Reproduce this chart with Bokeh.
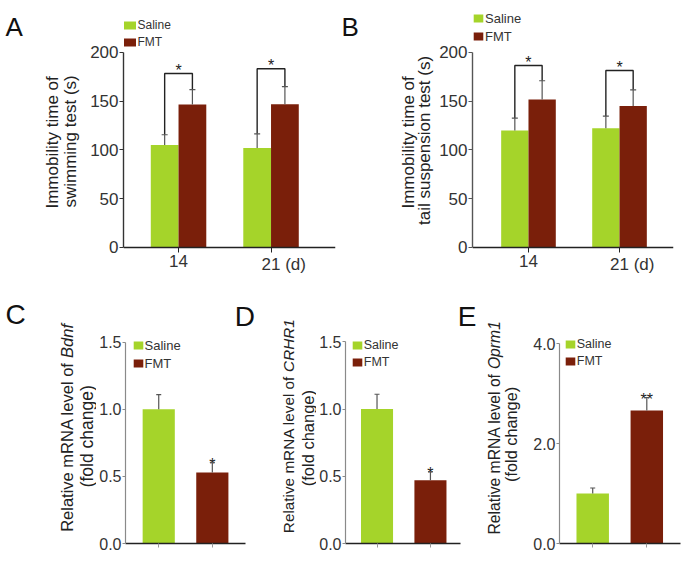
from math import pi
from bokeh.plotting import figure
from bokeh.models import (ColumnDataSource, Whisker, TeeHead, Label, Legend, LegendItem,
                          FixedTicker, NumeralTickFormatter, Range1d)
from bokeh.layouts import row, column
from bokeh.embed import file_html
from bokeh.resources import INLINE
from bokeh.core.properties import value

# ---------------- data ----------------
groups = ["Saline", "FMT"]
days = ["14", "21 (d)"]

a_saline = [105.0, 102.0]
a_saline_err = [10.6, 14.6]
a_fmt = [146.7, 147.0]
a_fmt_err = [15.3, 18.0]
a_bracket = [178.5, 183.3]
a_sig = ["*", "*"]

b_saline = [120.0, 122.4]
b_saline_err = [12.6, 12.3]
b_fmt = [151.8, 145.0]
b_fmt_err = [19.2, 16.7]
b_bracket = [186.7, 181.5]
b_sig = ["*", "*"]

c_values = [1.00, 0.53]
c_err = [0.11, 0.075]
c_sig = ["", "*"]

d_values = [1.00, 0.47]
d_err = [0.11, 0.065]
d_sig = ["", "*"]

e_values = [1.00, 2.66]
e_err = [0.11, 0.26]
e_sig = ["", "**"]

top_yticks = [0, 50, 100, 150, 200]
cd_yticks = [0, 0.5, 1.0, 1.5]
e_yticks = [0, 2.0, 4.0]

SAL_COLOR = "#A5D42A"
FMT_COLOR = "#7A1F0A"
FONT = "Liberation Sans"
ERR_COLOR = "#555555"
TXT = "#222222"


def clean(p):
    p.xgrid.visible = False
    p.ygrid.visible = False
    p.outline_line_color = None
    p.background_fill_color = "white"
    p.border_fill_color = "white"


def text_fig(x0, y0, width, height):
    # a text-only canvas whose data coordinates are page pixels (y grows downward)
    p = figure(width=width, height=height, x_range=Range1d(x0, x0 + width),
               y_range=Range1d(y0 + height, y0),
               x_axis_location=None, y_axis_location=None, title=None,
               output_backend="svg", toolbar_location=None,
               min_border_left=0, min_border_right=0, min_border_top=0, min_border_bottom=0)
    clean(p)
    return p


def label(p, text, x, y, size, angle=0.0, align="left", baseline="alphabetic",
          style="normal", x_offset=0, color=TXT):
    p.add_layout(Label(x=x, y=y, x_units="data", y_units="data", text=text,
                       angle=angle, text_align=align, text_baseline=baseline,
                       x_offset=x_offset, text_font=FONT, text_font_style=style,
                       text_font_size=size, text_color=color))


def main_fig(width, height, xr, yr, mbl, mbr, mbb):
    p = figure(width=width, height=height, x_range=Range1d(*xr), y_range=Range1d(*yr),
               title=None, output_backend="svg", toolbar_location=None,
               min_border_left=mbl, min_border_right=mbr,
               min_border_top=0, min_border_bottom=mbb)
    clean(p)
    p.xaxis.ticker = FixedTicker(ticks=[0, 1])
    p.xaxis.major_label_text_color = None
    p.xaxis.major_label_standoff = 0
    p.xaxis.minor_tick_line_color = None
    p.yaxis.minor_tick_line_color = None
    p.xaxis.major_tick_in = 0
    p.yaxis.major_tick_in = 0
    p.yaxis.major_label_text_font = FONT
    p.yaxis.major_label_text_color = "#333333"
    return p


def add_legend(p, items, x, y, font_size, gw, gh, lh):
    leg = Legend(items=items, location=(x, y), padding=0, margin=0, spacing=3,
                 border_line_color=None, background_fill_alpha=0,
                 glyph_width=gw, glyph_height=gh, label_height=lh, label_standoff=1,
                 label_text_font=FONT, label_text_font_size=font_size,
                 label_text_color="#333333")
    p.add_layout(leg)


def top_panel(width, mbl, mbr, xr, saline, serr, fmt, ferr, brackets, sig,
              leg_xy, leg_font, leg_g, yaxis_color):
    p = main_fig(width, 280, xr, (-27.7, 253.3), mbl, mbr, 6)
    idx = list(range(len(days)))
    hw = 0.15
    src_s = ColumnDataSource(dict(x=[i - hw for i in idx], top=saline,
                                  up=[v + e for v, e in zip(saline, serr)]))
    src_f = ColumnDataSource(dict(x=[i + hw for i in idx], top=fmt,
                                  up=[v + e for v, e in zip(fmt, ferr)]))
    r_s = p.vbar(x="x", top="top", width=2 * hw, bottom=0, source=src_s,
                 fill_color=SAL_COLOR, line_color=None)
    r_f = p.vbar(x="x", top="top", width=2 * hw, bottom=0, source=src_f,
                 fill_color=FMT_COLOR, line_color=None)
    for src in (src_s, src_f):
        p.add_layout(Whisker(base="x", lower="top", upper="up", source=src,
                             line_color=ERR_COLOR, line_width=1.2,
                             upper_head=TeeHead(size=6, line_color=ERR_COLOR, line_width=1.2),
                             lower_head=None, level="glyph"))
    xs, ys = [], []
    for i in idx:
        xs.append([i - hw, i - hw, i + hw, i + hw])
        ys.append([saline[i] + serr[i], brackets[i], brackets[i], fmt[i] + ferr[i]])
    p.multi_line(xs=xs, ys=ys, line_color="#222222", line_width=1.4)
    p.text(x=idx, y=brackets, text=sig, text_align="center", text_baseline="alphabetic",
           y_offset=-3, text_font=value(FONT), text_font_size="16px", text_color="#222222")
    # axes
    p.yaxis.ticker = FixedTicker(ticks=top_yticks)
    p.yaxis.bounds = (0, 200)
    p.yaxis.major_label_text_font_size = "17px"
    p.yaxis.major_tick_out = 4
    p.yaxis.major_label_standoff = 1
    p.yaxis.axis_line_color = yaxis_color
    p.yaxis.major_tick_line_color = yaxis_color
    p.yaxis.axis_line_width = 1.4
    p.xaxis.fixed_location = 0
    p.xaxis.axis_line_color = "#222222"
    p.xaxis.axis_line_width = 1.5
    p.xaxis.major_tick_line_color = "#222222"
    p.xaxis.major_tick_out = 5
    # x tick labels (inside the extended frame, below the zero line)
    label(p, days[0], 0, -7.2, "17px", align="center", baseline="top", color="#333333")
    label(p, days[1], 1, -7.2, "17px", align="left", baseline="top", x_offset=-9.5,
          color="#333333")
    add_legend(p, [LegendItem(label=groups[0], renderers=[r_s]),
                   LegendItem(label=groups[1], renderers=[r_f])],
               leg_xy[0], leg_xy[1], leg_font, leg_g[0], leg_g[1], 14)
    return p


def bottom_panel(width, mbl, mbr, mbb, xr, yr, bounds_x, yticks, y_top, vals, errs, sig,
                 leg_xy, leg_font, lh):
    p = main_fig(width, 282, xr, yr, mbl, mbr, mbb)
    idx = list(range(len(groups)))
    src = ColumnDataSource(dict(x=idx, top=vals, up=[v + e for v, e in zip(vals, errs)],
                                color=[SAL_COLOR, FMT_COLOR], sig=sig))
    r = p.vbar(x="x", top="top", width=0.6, bottom=0, source=src,
               fill_color="color", line_color=None)
    p.add_layout(Whisker(base="x", lower="top", upper="up", source=src,
                         line_color=ERR_COLOR, line_width=1.2,
                         upper_head=TeeHead(size=5, line_color=ERR_COLOR, line_width=1.2),
                         lower_head=None, level="glyph"))
    p.text(x="x", y="up", text="sig", source=src, text_align="center",
           text_baseline="alphabetic", y_offset=2, text_font=value(FONT),
           text_font_size="16px", text_color="#222222")
    p.yaxis.ticker = FixedTicker(ticks=yticks)
    p.yaxis.bounds = (0, y_top)
    p.yaxis.formatter = NumeralTickFormatter(format="0.0")
    p.yaxis.major_label_text_font_size = "16px"
    p.yaxis.major_tick_out = 3
    p.yaxis.major_label_standoff = 1
    p.yaxis.axis_line_color = "#8a8a8a"
    p.yaxis.major_tick_line_color = "#8a8a8a"
    p.yaxis.axis_line_width = 1.2
    p.xaxis.bounds = bounds_x
    p.xaxis.axis_line_color = "#222222"
    p.xaxis.axis_line_width = 1.3
    p.xaxis.major_tick_line_color = "#999999"
    p.xaxis.major_tick_out = 4
    items = [LegendItem(label=groups[0], renderers=[r], index=0),
             LegendItem(label=groups[1], renderers=[r], index=1)]
    add_legend(p, items, leg_xy[0], leg_xy[1], leg_font, 12, 10, lh)
    return p


def ylabel_two_part(p, gene, x1, junction_y, font1, x2, y2, font2):
    # page-pixel coordinates (y downward). Line 1 reads upward: the plain part ends just
    # below junction_y, the italic gene name starts at junction_y.
    gap = 0.278 * font1
    label(p, "Relative mRNA level of", x1, junction_y + gap, f"{font1}px", angle=pi / 2,
          align="right", baseline="middle")
    label(p, gene, x1, junction_y, f"{font1}px", angle=pi / 2,
          align="left", baseline="middle", style="italic")
    label(p, "(fold change)", x2, y2, f"{font2}px", angle=pi / 2, align="center",
          baseline="middle")


# ---------------- top row ----------------
tA = text_fig(0, 0, 82, 280)
label(tA, "A", 5, 27, "26px", color="#111111")
label(tA, "Immobility time of", 51.7, 145, "17px", angle=pi / 2, align="center",
      baseline="middle")
label(tA, "swimming test (s)", 70, 144, "17px", angle=pi / 2, align="center",
      baseline="middle")

pA = top_panel(258, 41, 5, (-0.595, 1.697), a_saline, a_saline_err, a_fmt, a_fmt_err,
               a_bracket, a_sig, (-1.5, 225.5), "12px", (15, 10), "#333333")

tB = text_fig(340, 0, 95, 280)
label(tB, "B", 341, 27, "26px", color="#111111")
label(tB, "Immobility time of", 407.5, 145, "17px", angle=pi / 2, align="center",
      baseline="middle")
label(tB, "tail suspension test (s)", 424, 143, "17px", angle=pi / 2, align="center",
      baseline="middle")

pB = top_panel(250, 37, 12, (-0.615, 1.593), b_saline, b_saline_err, b_fmt, b_fmt_err,
               b_bracket, b_sig, (0, 230.3), "13px", (12, 10), "#555555")

# ---------------- bottom row ----------------
tC = text_fig(0, 280, 96, 282)
label(tC, "C", 5, 316, "28px", color="#111111")
ylabel_two_part(tC, "Bdnf", 66, 363, 16.5, 86, 447, 17.5)

pC = bottom_panel(160, 28, 0, 19, (-0.62, 1.824), (0, 1.96), (-0.62, 1.62), cd_yticks, 1.5,
                  c_values, c_err, c_sig, (6.5, 172.5), "13px", 15)
label(pC, "D", 1.417, 1.691, "28px", color="#111111")

tD = text_fig(256, 280, 60, 282)
ylabel_two_part(tD, "CRHR1", 288, 378, 15.3, 307, 449, 16.5)

pD = bottom_panel(164, 27, 0, 17, (-0.59, 1.937), (0, 1.956), (-0.59, 1.568), cd_yticks, 1.5,
                  d_values, d_err, d_sig, (5.75, 174.2), "12.5px", 14)
label(pD, "E", 1.513, 1.690, "28px", color="#111111")

tE = text_fig(480, 280, 50, 282)
ylabel_two_part(tE, "Oprm1", 494, 375, 15.7, 510, 445, 16.3)

pE = bottom_panel(155, 29, 5, 19, (-0.614, 1.623), (0, 5.26), (-0.614, 1.623), e_yticks, 4.0,
                  e_values, e_err, e_sig, (4.75, 175), "12.5px", 14)

layout = column(row(tA, pA, tB, pB), row(tC, pC, tD, pD, tE, pE))

with open("out.html", "w") as f:
    f.write(file_html(layout, INLINE))
